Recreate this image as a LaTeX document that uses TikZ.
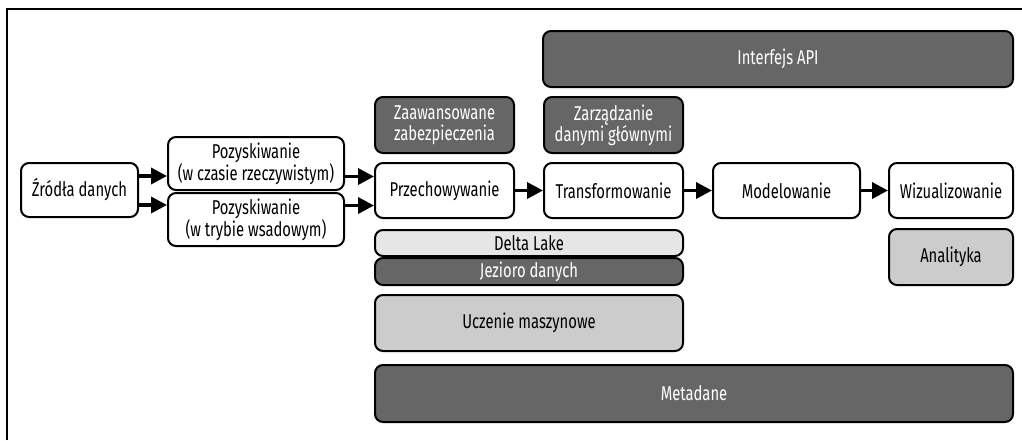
\documentclass[tikz,border=0pt]{standalone}
\usepackage{fontspec}
\setmainfont[FakeStretch=0.74]{Fira Sans}
\usetikzlibrary{arrows.meta}
\definecolor{darkbox}{HTML}{666666}
\definecolor{midbox}{HTML}{CCCCCC}
\definecolor{lightbox}{HTML}{E6E6E6}
\tikzset{
  box/.style={draw=black, line width=2pt, rounded corners=8pt, inner sep=0pt,
    align=center, font=\fontsize{20}{21}\selectfont, fill=white},
  darkfill/.style={box, fill=darkbox, text=white},
  midfill/.style={box, fill=midbox},
  lightfill/.style={box, fill=lightbox},
  flow/.style={line width=3.5pt, -{Triangle[length=16pt,width=16pt]}},
}
\begin{document}
\begin{tikzpicture}[x=1pt, y=-1pt]
\useasboundingbox (0,0) rectangle (1022,440);
% frame edges
\draw[line width=2pt] (7,440) -- (7,9) -- (1022,9);

% pipeline stages
\node[box, minimum width=117pt, minimum height=54pt] (src) at (79.5,190) {Źródła danych};
\node[box, minimum width=176pt, minimum height=53pt] (rt) at (256,163.5) {Pozyskiwanie\\(w czasie rzeczywistym)};
\node[box, minimum width=176pt, minimum height=53pt] (bt) at (256,219.5) {Pozyskiwanie\\(w trybie wsadowym)};
\node[box, minimum width=139pt, minimum height=55pt] (store) at (444.5,190.5) {Przechowywanie};
\node[box, minimum width=139pt, minimum height=55pt] (trans) at (613.5,190.5) {Transformowanie};
\node[box, minimum width=147pt, minimum height=55pt] (model) at (786.5,190.5) {Modelowanie};
\node[box, minimum width=124pt, minimum height=55pt] (viz) at (951,190.5) {Wizualizowanie};

% supporting layers
\node[darkfill, minimum width=139pt, minimum height=56pt] (sec) at (444.5,125) {Zaawansowane\\zabezpieczenia};
\node[darkfill, minimum width=139pt, minimum height=56pt] (mdm) at (613.5,125) {Zarządzanie\\danymi głównymi};
\node[darkfill, minimum width=470pt, minimum height=56pt] (api) at (778,59) {Interfejs API};
\node[lightfill, minimum width=308pt, minimum height=26pt] (delta) at (529,243) {Delta Lake};
\node[darkfill, minimum width=308pt, minimum height=27pt] (lake) at (529,271.5) {Jezioro danych};
\node[midfill, minimum width=308pt, minimum height=56pt] (ml) at (529,323) {Uczenie maszynowe};
\node[midfill, minimum width=124pt, minimum height=56pt] (ana) at (951,257) {Analityka};
\node[darkfill, minimum width=638pt, minimum height=57pt] (meta) at (694,393.5) {Metadane};

% data flow
\draw[flow] ([yshift=14pt]src.east) -- ([yshift=14pt]src.east -| rt.west);
\draw[flow] ([yshift=-15pt]src.east) -- ([yshift=-15pt]src.east -| bt.west);
\draw[flow] ([yshift=14pt]store.west -| rt.east) -- ([yshift=14pt]store.west);
\draw[flow] ([yshift=-15pt]store.west -| bt.east) -- ([yshift=-15pt]store.west);
\draw[flow] (store) -- (trans);
\draw[flow] (trans) -- (model);
\draw[flow] (model) -- (viz);
\end{tikzpicture}
\end{document}
